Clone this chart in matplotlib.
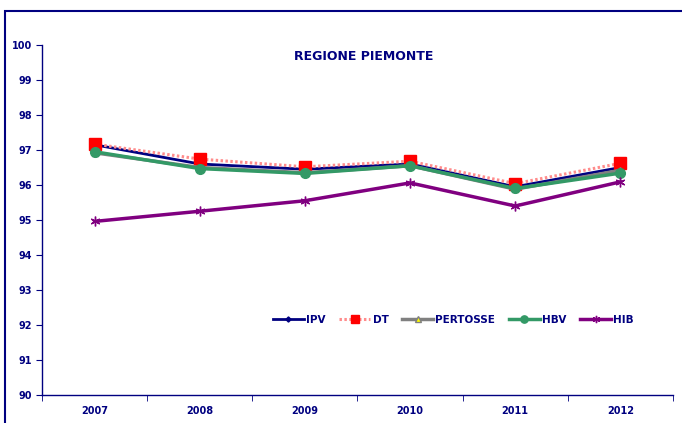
import numpy as np
import matplotlib
matplotlib.use('Agg')
import matplotlib.pyplot as plt
from matplotlib.patches import Rectangle

years = ['2007', '2008', '2009', '2010', '2011', '2012']
ipv = [97.15, 96.60, 96.45, 96.60, 95.95, 96.50]
dt = [97.17, 96.74, 96.52, 96.68, 96.04, 96.62]
pertosse = [96.92, 96.50, 96.35, 96.55, 95.88, 96.42]
hbv = [96.95, 96.47, 96.33, 96.55, 95.90, 96.34]
hib = [94.96, 95.25, 95.55, 96.06, 95.40, 96.09]

navy = '#000080'
plt.rcParams['font.family'] = 'DejaVu Sans'

fig = plt.figure(figsize=(6.82, 4.23), dpi=100)
fig.patches.append(Rectangle((5 / 682, -0.1), 1.2, 1.1 - 11 / 423,
                             transform=fig.transFigure, fill=False,
                             edgecolor=navy, linewidth=1.5))
ax = fig.add_axes([42 / 682, 1 - 395 / 423, 631 / 682, 350 / 423])

x = np.arange(len(years))
ax.plot(x, ipv, color=navy, lw=2, marker='D', ms=3.5, label='IPV', zorder=3)
ax.plot(x, dt, color='#ff8c8c', lw=2.2, ls=(0, (0.8, 0.8)), marker='s', ms=8,
        mfc='red', mec='red', label='DT', zorder=4)
ax.plot(x, pertosse, color='#808080', lw=2.5, marker='^', ms=5,
        mfc='yellow', mec='#808080', label='PERTOSSE', zorder=5)
ax.plot(x, hbv, color='#339966', lw=2.5, marker='o', ms=7,
        mfc='#339966', mec='#339966', label='HBV', zorder=6)
ax.plot(x, hib, color='#800080', lw=2.5, marker=(6, 2, 0), ms=7,
        mec='#800080', mew=1, label='HIB', zorder=7)

ax.set_xlim(-0.5, 5.5)
ax.set_ylim(90, 100)
ax.set_yticks(np.arange(90, 101, 1))
ax.set_xticks(x)
ax.set_xticklabels(years)
ax.set_xticks(np.arange(-0.5, 6, 1), minor=True)
ax.tick_params(axis='x', which='major', length=0, pad=8)
ax.tick_params(axis='x', which='minor', length=4, color=navy, direction='out')
ax.tick_params(axis='y', length=4, color=navy, direction='out', pad=3)
for lbl in ax.get_xticklabels() + ax.get_yticklabels():
    lbl.set_fontsize(7)
    lbl.set_fontweight('bold')
    lbl.set_color(navy)

for s in ['top', 'right']:
    ax.spines[s].set_visible(False)
for s in ['left', 'bottom']:
    ax.spines[s].set_color(navy)
    ax.spines[s].set_linewidth(1)

ax.text(0.51, 0.968, 'REGIONE PIEMONTE', transform=ax.transAxes,
        ha='center', va='center', fontsize=9, fontweight='bold', color=navy)

leg = ax.legend(loc='center', bbox_to_anchor=(0.652, 0.214), ncol=5,
                frameon=False, handlelength=3.0, columnspacing=1.3,
                handletextpad=0.2, markerscale=0.75,
                prop={'size': 7.5, 'weight': 'bold'})
for t in leg.get_texts():
    t.set_color(navy)

fig.savefig('out.png', dpi=100)
